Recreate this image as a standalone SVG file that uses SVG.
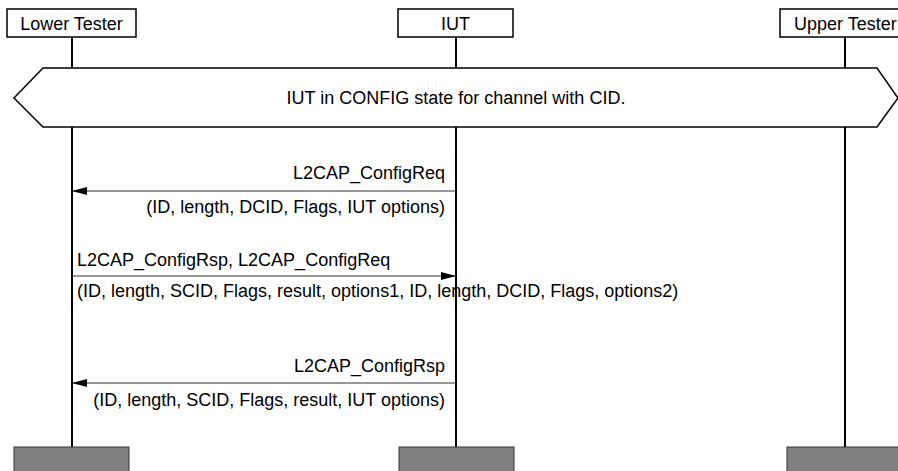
<svg xmlns="http://www.w3.org/2000/svg" width="898" height="471" viewBox="0 0 898 471">
<defs>
<marker id="ah" viewBox="0 0 15 8" refX="15" refY="4" markerWidth="15" markerHeight="8" markerUnits="userSpaceOnUse" orient="auto">
<path d="M0,0 L15,4 L0,8 Z" fill="#000"/>
</marker>
</defs>
<style>
text{font-family:"Liberation Sans",Arial,sans-serif;font-size:18px;fill:#000}
.box{fill:#fff;stroke:#000;stroke-width:1.5}
.life{stroke:#000;stroke-width:2}
.msg{stroke:#333;stroke-width:1;marker-end:url(#ah)}
.end{fill:#808080;stroke:#333;stroke-width:1}
.st{fill:#fff;stroke:#000;stroke-width:1.5}
</style>
<g id="lifelines">
<line class="life" x1="72" y1="37" x2="72" y2="447"/>
<line class="life" x1="456" y1="37" x2="456" y2="447"/>
<line class="life" x1="845" y1="37" x2="845" y2="447"/>
</g>
<g id="lower-tester">
<rect class="box" x="7" y="9" width="129" height="28"/>
<text x="71.5" y="30" text-anchor="middle">Lower Tester</text>
<rect class="end" x="14" y="447" width="115" height="30"/>
</g>
<g id="iut">
<rect class="box" x="398" y="9" width="115" height="28"/>
<text x="455.5" y="30" text-anchor="middle">IUT</text>
<rect class="end" x="399" y="447" width="115" height="30"/>
</g>
<g id="upper-tester">
<rect class="box" x="780" y="9" width="130" height="28"/>
<text x="794" y="30">Upper Tester</text>
<rect class="end" x="787" y="447" width="120" height="30"/>
</g>
<g id="state">
<polygon class="st" points="43,68 877,68 898,98 877,127 43,127 14,98"/>
<text x="456" y="104" text-anchor="middle">IUT in CONFIG state for channel with CID.</text>
</g>
<g id="connectors">
<line class="msg" x1="456" y1="191" x2="72" y2="191"/>
<text x="445" y="179" text-anchor="end">L2CAP_ConfigReq</text>
<text x="445" y="213" text-anchor="end">(ID, length, DCID, Flags, IUT options)</text>
<line class="msg" x1="72" y1="276" x2="456" y2="276"/>
<text x="77" y="266">L2CAP_ConfigRsp, L2CAP_ConfigReq</text>
<text x="77" y="297">(ID, length, SCID, Flags, result, options1, ID, length, DCID, Flags, options2)</text>
<line class="msg" x1="456" y1="383" x2="72" y2="383"/>
<text x="445" y="372" text-anchor="end">L2CAP_ConfigRsp</text>
<text x="445" y="406" text-anchor="end">(ID, length, SCID, Flags, result, IUT options)</text>
</g>
</svg>
